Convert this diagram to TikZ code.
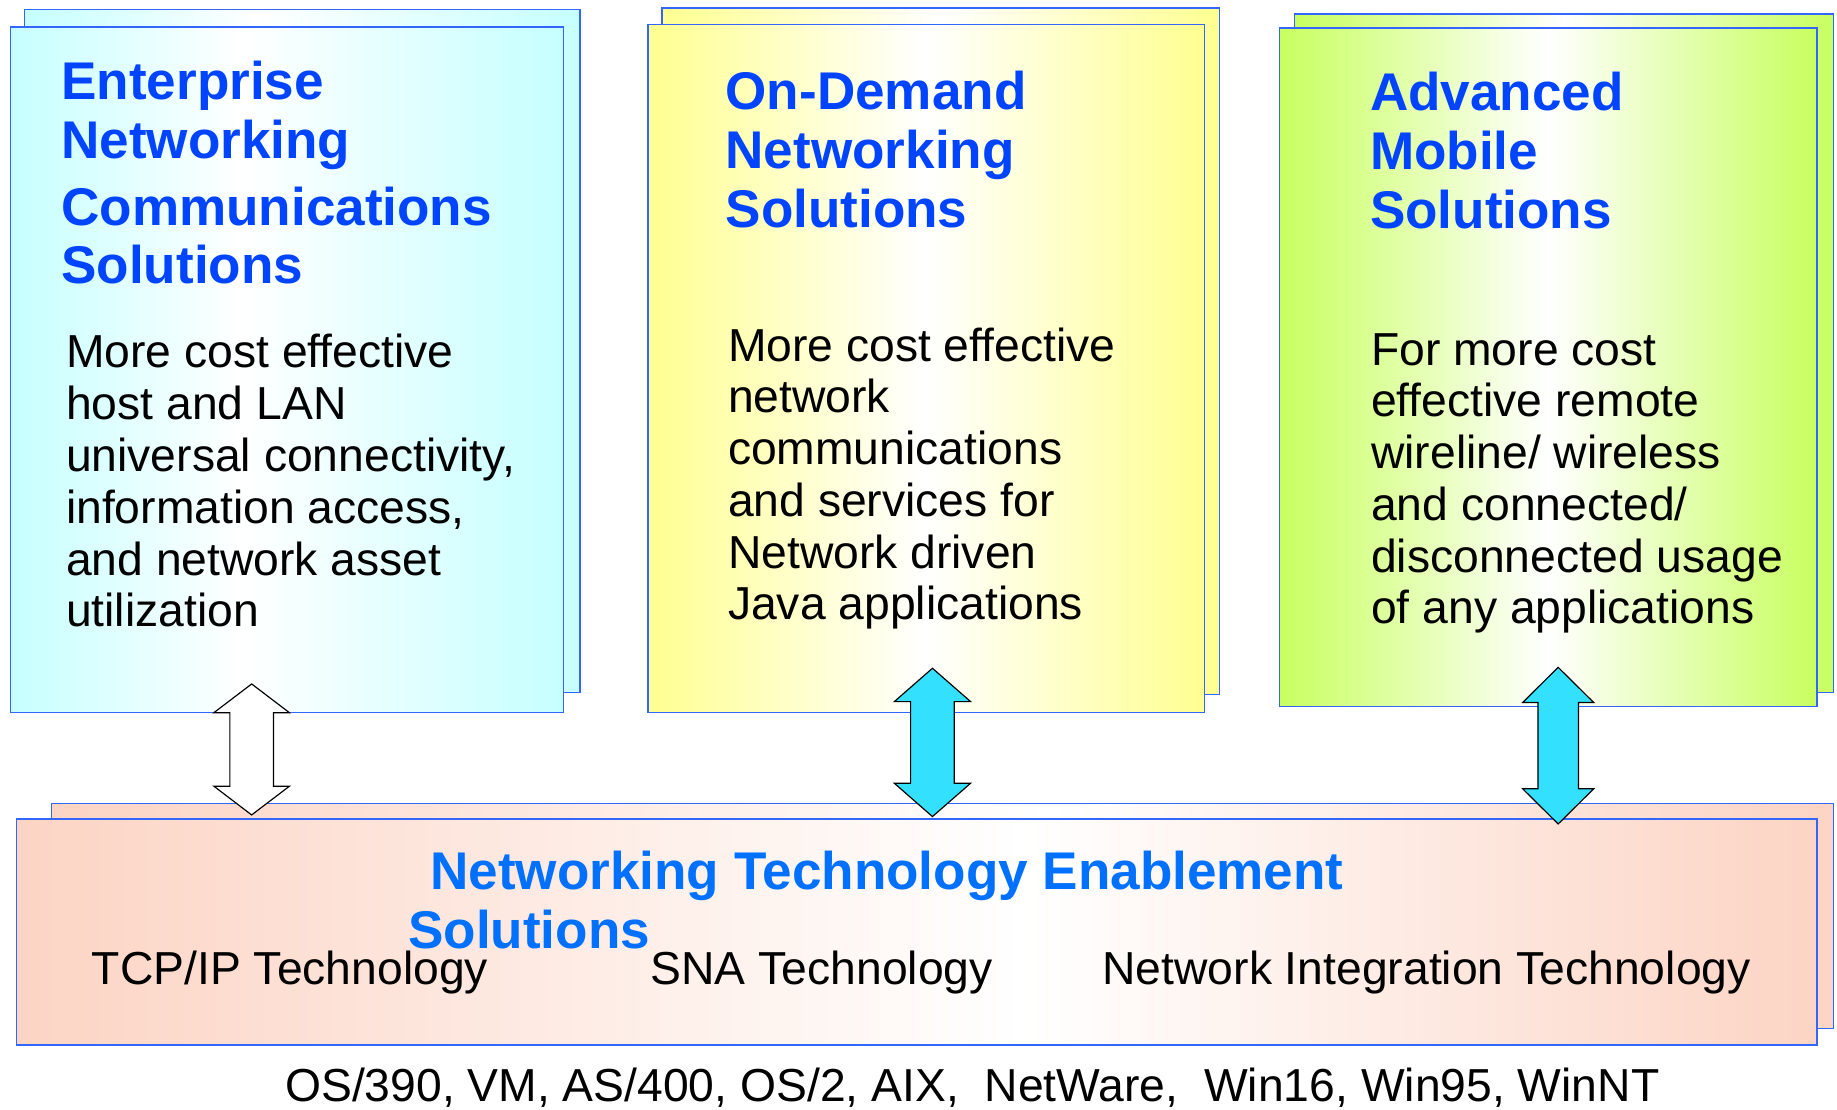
\documentclass[tikz,border=0pt]{standalone}
\usepackage{fontspec}
\setmainfont{Liberation Sans}
\usepackage{tikz}

\definecolor{cyanedge}{RGB}{198,255,255}
\definecolor{yellowedge}{RGB}{255,255,145}
\definecolor{greenedge}{RGB}{200,255,95}
\definecolor{salmonedge}{RGB}{252,212,196}
\definecolor{boxline}{RGB}{51,102,255}
\definecolor{headblue}{RGB}{0,68,255}
\definecolor{baseblue}{RGB}{0,112,255}
\definecolor{arrowcyan}{RGB}{51,225,255}

% panel fills: edge colour, white band, edge colour (box spans 25bp..75bp)
\pgfdeclarehorizontalshading{cyanfade}{100bp}{color(0bp)=(cyanedge); color(25bp)=(cyanedge); color(46bp)=(white); color(75bp)=(cyanedge); color(100bp)=(cyanedge)}
\pgfdeclarehorizontalshading{yellowfade}{100bp}{color(0bp)=(yellowedge); color(25bp)=(yellowedge); color(50bp)=(white); color(75bp)=(yellowedge); color(100bp)=(yellowedge)}
\pgfdeclarehorizontalshading{greenfade}{100bp}{color(0bp)=(greenedge); color(25bp)=(greenedge); color(50bp)=(white); color(75bp)=(greenedge); color(100bp)=(greenedge)}
\pgfdeclarehorizontalshading{salmonfade}{100bp}{color(0bp)=(salmonedge); color(25bp)=(salmonedge); color(53bp)=(white); color(75bp)=(salmonedge); color(100bp)=(salmonedge)}

\begin{document}
\begin{tikzpicture}[x=0.5pt,y=-0.5pt,
  panel/.style={draw=boxline,line width=0.6pt},
  headline/.style={anchor=base west,inner sep=0pt,align=left,text=headblue,
    font=\fontsize{22.65}{25.15}\selectfont\bfseries},
  body/.style={anchor=base west,inner sep=0pt,align=left,
    font=\fontsize{19.75}{22.1}\selectfont}]
\newcommand{\dblarrow}[7]{%
  \filldraw[fill=#7,draw=black,line width=0.5pt,line join=miter]
    (#1,#2) -- (#1+#5,#2+#4) -- (#1+#6,#2+#4) -- (#1+#6,#3-#4) -- (#1+#5,#3-#4)
    -- (#1,#3) -- (#1-#5,#3-#4) -- (#1-#6,#3-#4) -- (#1-#6,#2+#4) -- (#1-#5,#2+#4) -- cycle;}
\useasboundingbox (0,0) rectangle (1568,947);

% back and front sheets
\foreach \s/\ax/\ay/\bx/\by in {cyanfade/21/8/495/591, cyanfade/9/23/481/608,
    yellowfade/565/7/1041/593, yellowfade/553/21/1028/608,
    greenfade/1105/12/1565/591, greenfade/1092/24/1551/603,
    salmonfade/44/686/1565/878, salmonfade/14/699/1551/892}
  {
    \shade[panel,shading=\s] (\ax,\ay) rectangle (\bx,\by);
  }

% multi-line nodes sit on the baseline of their last line
\node[headline] (ent) at (52,242.4) {Enterprise\\Networking\\[3.35pt]Communications\\Solutions};
\node[body] (entbody) at (56,535) {More cost effective\\host and LAN\\universal connectivity,\\information access,\\and network asset\\utilization};

\node[headline] (ond) at (619,194.3) {On-Demand\\Networking\\Solutions};
\node[body] (ondbody) at (621,529.2) {More cost effective\\network\\communications\\and services for\\Network driven\\Java applications};

\node[headline] (adv) at (1169,194.9) {Advanced\\Mobile\\Solutions};
\node[body] (advbody) at (1170,532.6) {For more cost\\effective remote\\wireline/ wireless\\and connected/\\disconnected usage\\of any applications};

\node[headline,text=baseblue] (nte) at (348,809.4) {\hspace*{9.5pt}Networking Technology Enablement\\Solutions};
\node[body] (tcp) at (78,840.7) {TCP/IP Technology};
\node[body] (sna) at (555,840.5) {SNA Technology};
\node[body] (nit) at (940.6,840) {Network Integration Technology};
\node[body] (os) at (243,940.3) {OS/390, VM, AS/400, OS/2, AIX,\ \ NetWare,\ \ Win16, Win95, WinNT};

% links to the base layer
\dblarrow{214.8}{583.8}{695.6}{24.5}{32.2}{18.6}{white}
\dblarrow{795.9}{570.4}{697}{28.5}{32.6}{18.6}{arrowcyan}
\dblarrow{1330}{569.6}{703.3}{30}{30.3}{17.3}{arrowcyan}
\end{tikzpicture}
\end{document}
